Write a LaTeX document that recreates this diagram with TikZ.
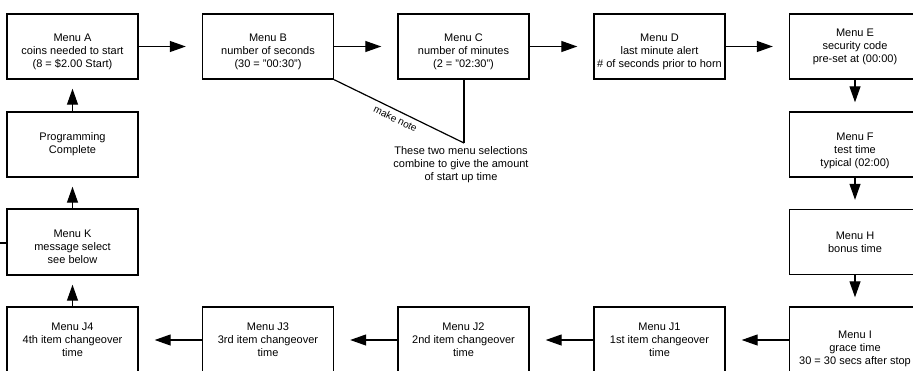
\documentclass[tikz,border=0pt]{standalone}
\usepackage{fontspec}
\setmainfont{Liberation Sans}
\usepackage{tikz}
\usetikzlibrary{arrows.meta}
\tikzset{
menu/.style={draw,line width=1.4pt,minimum width=131pt,minimum height=65pt,inner sep=0pt,align=center,font=\fontsize{11}{13}\selectfont},
sunk/.style={text height=#1},
flow/.style={line width=1.2pt,-{Triangle[length=16pt,width=11pt]}},
across/.style={flow,shorten >=16pt},
down/.style={flow,shorten >=9pt},
}

\begin{document}
\begin{tikzpicture}[x=1pt,y=-1pt]
\useasboundingbox (0,0) rectangle (913,370);
% top row
\node[menu,sunk=44pt] (mA) at (72.5,46.5) {Menu A\\coins needed to start\\(8 = \$2.00 Start)};
\node[menu,sunk=44pt] (mB) at (268,46.5) {Menu B\\number of seconds\\(30 = "00:30")};
\node[menu,sunk=44pt] (mC) at (463.5,46.5) {Menu C\\number of minutes\\(2 = "02:30")};
\node[menu,sunk=45pt] (mD) at (659.5,46.5) {Menu D\\last minute alert\\\# of seconds prior to horn};
\node[menu] (mE) at (855,46.5) {Menu E\\security code\\pre-set at (00:00)};
% right column
\node[menu,sunk=46pt] (mF) at (855,144.5) {Menu F\\test time\\typical (02:00)};
\node[menu] (mH) at (855,242) {Menu H\\bonus time};
\node[menu,minimum height=84pt] (mI) at (855,349) {Menu I\\grace time\\30 = 30 secs after stop};
% bottom row
\node[menu,minimum height=66pt] (mJ1) at (659.5,340) {Menu J1\\1st item changeover\\time};
\node[menu,minimum height=66pt] (mJ2) at (463.5,340) {Menu J2\\2nd item changeover\\time};
\node[menu,minimum height=66pt] (mJ3) at (268,340) {Menu J3\\3rd item changeover\\time};
\node[menu,minimum height=66pt] (mJ4) at (72.5,340) {Menu J4\\4th item changeover\\time};
% left column
\node[menu,minimum height=66pt,sunk=43pt] (mK) at (72.5,242) {Menu K\\message select\\see below};
\node[menu] (done) at (72.5,144.5) {Programming\\Complete};
\coordinate (away) at (-10,243);
% note
\coordinate (nt) at (464,143);
\node[anchor=north,align=center,inner sep=1pt,font=\fontsize{11}{13}\selectfont] (memo) at (461,145) {These two menu selections\\combine to give the amount\\of start up time};

\draw[across] (mA) -- (mB);
\draw[across] (mB) -- (mC);
\draw[across] (mC) -- (mD);
\draw[across] (mD) -- (mE);
\draw[down] (mE) -- (mF);
\draw[down] (mF) -- (mH);
\draw[down] (mH) -- (mI);
\draw[across] (mI.west |- mJ1) -- (mJ1);
\draw[across] (mJ1) -- (mJ2);
\draw[across] (mJ2) -- (mJ3);
\draw[across] (mJ3) -- (mJ4);
\draw[down] (mJ4) -- (mK);
\draw[down] (mK) -- (done);
\draw[down] (done) -- (mA);
\draw[line width=1.2pt] (mK.west |- away) -- (away);
\draw[line width=1.2pt] (mB.south east) -- node[sloped,below,inner sep=4pt,font=\fontsize{10}{12}\selectfont] {make note} (nt);
\draw[line width=1.2pt] (mC.south -| nt) -- (nt);
\end{tikzpicture}
\end{document}
